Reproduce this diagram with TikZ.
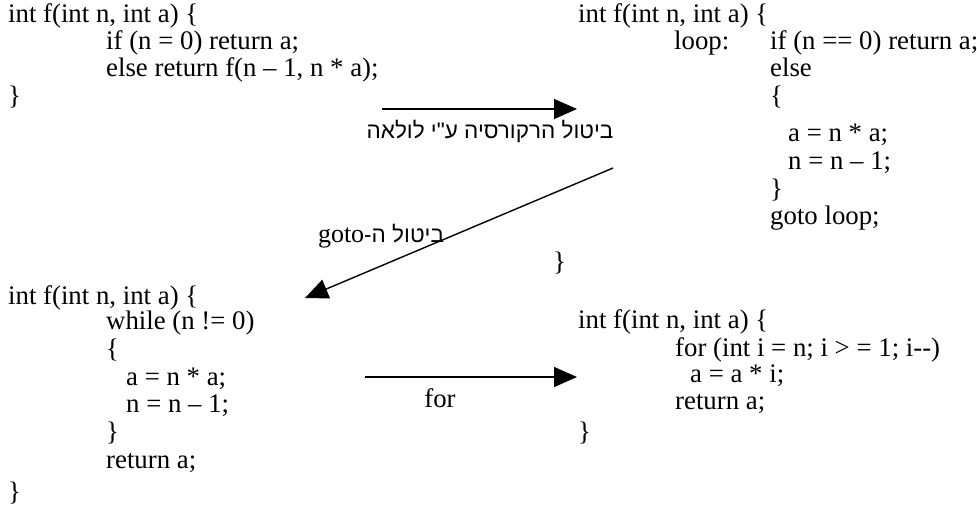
\documentclass[tikz,border=0pt]{standalone}
\usepackage{fontspec}
\setmainfont{Liberation Serif}
\newfontfamily\hebfont[Script=Hebrew]{Liberation Sans}
\TeXXeTstate=1
\usetikzlibrary{arrows.meta}
\begin{document}
\begin{tikzpicture}[x=1pt,y=-1pt]
\tikzset{
  code/.style={anchor=base west, inner sep=0pt, font=\fontsize{26.8}{30}\selectfont},
  lbl/.style={inner sep=0pt, font=\fontsize{26.8}{30}\selectfont},
  heb/.style={inner sep=0pt, font=\fontsize{22.5}{26}\hebfont},
  conn/.style={line width=1.4pt, -{Triangle[length=23pt,width=20pt]}}
}
\useasboundingbox (0,0) rectangle (977,520);
% top-left block
\node[code] (tl1) at (8,22) {int f(int n, int a) \{};
\node[code] (tl2) at (106,49) {if (n = 0) return a;};
\node[code] (tl3) at (106,76) {else return f(n – 1, n * a);};
\node[code] (tl4) at (8,104) {\}};
% top-right block
\node[code] (tr1) at (578,22) {int f(int n, int a) \{};
\node[code] (tr2) at (674,49) {loop:};
\node[code] (tr3) at (770,49) {if (n == 0) return a;};
\node[code] (tr4) at (770,76) {else};
\node[code] (tr5) at (770,104) {\{};
\node[code] (tr6) at (788,141) {a = n * a;};
\node[code] (tr7) at (788,169) {n = n – 1;};
\node[code] (tr8) at (770,197) {\}};
\node[code] (tr9) at (770,224) {goto loop;};
\node[code] (tr10) at (553,270) {\}};
% bottom-left block
\node[code] (bl1) at (8,304) {int f(int n, int a) \{};
\node[code] (bl2) at (106,329) {while (n != 0)};
\node[code] (bl3) at (106,357) {\{};
\node[code] (bl4) at (126,385) {a = n * a;};
\node[code] (bl5) at (126,412) {n = n – 1;};
\node[code] (bl6) at (106,440) {\}};
\node[code] (bl7) at (106,468) {return a;};
\node[code] (bl8) at (8,500) {\}};
% bottom-right block
\node[code] (br1) at (578,328) {int f(int n, int a) \{};
\node[code] (br2) at (675,356) {for (int i = n; i > = 1; i-{}-)};
\node[code] (br3) at (690,382) {a = a * i;};
\node[code] (br4) at (675,409) {return a;};
\node[code] (br5) at (578,440) {\}};
% arrows
\coordinate (a1s) at (382,109);
\coordinate (a1e) at (577,109);
\draw[conn] (a1s) -- (a1e);
\node[heb] (l1) at (490,131) {\beginR ביטול הרקורסיה ע"י לולאה\endR};
\coordinate (a2s) at (613,168);
\coordinate (a2e) at (305,298);
\draw[conn] (a2s) -- (a2e);
\node[heb] (l2) at (381,236) {\beginR ביטול ה-\beginL{\rmfamily\fontsize{26}{30}\selectfont goto}\endL\endR};
\coordinate (a3s) at (365,377);
\coordinate (a3e) at (577,377);
\draw[conn] (a3s) -- (a3e);
\node[lbl] (l3) at (440,398) {for};
\end{tikzpicture}
\end{document}
